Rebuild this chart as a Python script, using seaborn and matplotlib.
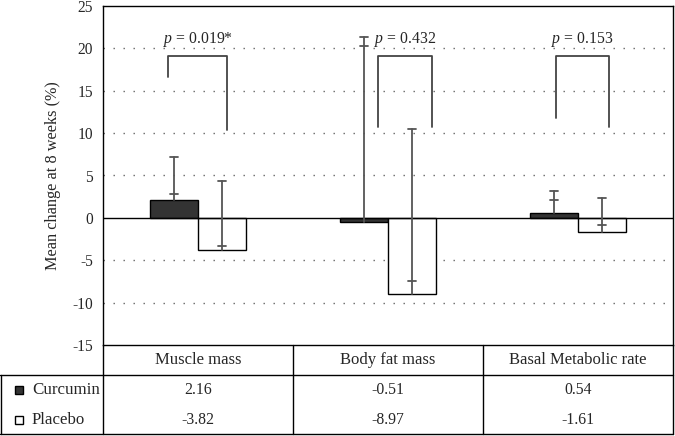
import matplotlib
matplotlib.use("Agg")
import matplotlib.pyplot as plt
import matplotlib.transforms as mtransforms
from matplotlib.lines import Line2D
from matplotlib.patches import Rectangle
import seaborn as sns
import pandas as pd
import numpy as np

# ---------------- data ----------------
categories = ["Muscle mass", "Body fat mass", "Basal Metabolic rate"]
groups = ["Curcumin", "Placebo"]
curcumin_mean = [2.16, -0.51, 0.54]
placebo_mean = [-3.82, -8.97, -1.61]
curcumin_cap = [7.2, 21.4, 3.2]
curcumin_tick = [2.8, 20.3, 2.1]
placebo_cap = [4.4, 10.5, 2.4]
placebo_tick = [-3.3, -7.5, -0.8]
p_labels = ["0.019*", "0.432", "0.153"]
bracket_top = [19.1, 19.1, 19.1]
bracket_left_bottom = [16.6, 10.7, 11.8]
bracket_right_bottom = [10.4, 10.7, 10.7]
bracket_left_x = [-0.158, -0.053, -0.116]
bracket_right_x = [0.153, 0.232, 0.163]
p_text_x = [0.0, 0.09, 0.02]
p_text_y = 21.0
y_ticks = [-15, -10, -5, 0, 5, 10, 15, 20, 25]

df = pd.DataFrame({
    "measure": categories * 2,
    "group": [groups[0]] * 3 + [groups[1]] * 3,
    "value": curcumin_mean + placebo_mean,
})

# ---------------- style ----------------
sns.set_style("white")
plt.rcParams["font.family"] = ["Liberation Serif", "DejaVu Serif"]
plt.rcParams["axes.unicode_minus"] = False
plt.rcParams["mathtext.fontset"] = "custom"
plt.rcParams["mathtext.it"] = "Liberation Serif:italic"
plt.rcParams["mathtext.rm"] = "Liberation Serif"

W, H = 675, 436
fig = plt.figure(figsize=(W / 100, H / 100), dpi=100)
ax = fig.add_axes([103 / W, (H - 345) / H, 570 / W, 339 / H])

dark = "#333333"
err_c = "#555555"
sns.barplot(data=df, x="measure", y="value", hue="group", order=categories,
            hue_order=groups, palette=[dark, "white"], width=0.505,
            edgecolor="black", linewidth=1.0, legend=False, ax=ax,
            errorbar=None, saturation=1, zorder=3)

ax.set_xlim(-0.5, 2.5)
ax.set_ylim(-15, 25)
ax.set_yticks(y_ticks)
ax.set_yticklabels([str(t) for t in y_ticks], fontsize=11.2)
ax.tick_params(axis="y", length=0, pad=7)
ax.set_xticks([])
ax.set_xlabel("")
ax.set_ylabel("Mean change at 8 weeks (%)", fontsize=11.7, labelpad=8)

for s in ["top", "right", "left", "bottom"]:
    ax.spines[s].set_visible(True)
    ax.spines[s].set_color("black")
    ax.spines[s].set_linewidth(1.0)

# dotted grid lines
for t in y_ticks:
    if t in (-15, 0, 25):
        continue
    ax.axhline(t, color="#666666", linestyle=(0, (1, 6.2)), linewidth=1.0, zorder=1)
ax.axhline(0, color="black", linewidth=1.0, zorder=4)

# error bars
cap_hw = 0.02
for cont, means, caps, ticks in [(ax.containers[0], curcumin_mean, curcumin_cap, curcumin_tick),
                                 (ax.containers[1], placebo_mean, placebo_cap, placebo_tick)]:
    for bar, m, c, t in zip(cont.patches, means, caps, ticks):
        xc = bar.get_x() + bar.get_width() / 2
        ax.plot([xc, xc], [m, c], color=err_c, lw=1.3, zorder=5)
        ax.plot([xc - cap_hw, xc + cap_hw], [c, c], color=err_c, lw=1.3, zorder=5)
        ax.plot([xc - cap_hw, xc + cap_hw], [t, t], color=err_c, lw=1.3, zorder=5)

# brackets & p-values
for i in range(3):
    xl = i + bracket_left_x[i]
    xr = i + bracket_right_x[i]
    ax.plot([xl, xl, xr, xr],
            [bracket_left_bottom[i], bracket_top[i], bracket_top[i], bracket_right_bottom[i]],
            color="#444444", lw=1.3, zorder=5)
    ax.text(i + p_text_x[i], p_text_y, "$p$ = " + p_labels[i], ha="center", va="center",
            fontsize=11.3, zorder=6)

# ---------------- table ----------------
blend = mtransforms.blended_transform_factory(ax.transData, fig.transFigure)
fy = lambda px: 1 - px / H
fx = lambda px: px / W
lw_t = 1.0

# horizontal lines
fig.add_artist(Line2D([fx(0), fx(673)], [fy(375), fy(375)], color="black", lw=lw_t, transform=fig.transFigure))
fig.add_artist(Line2D([fx(0), fx(673)], [fy(434), fy(434)], color="black", lw=lw_t, transform=fig.transFigure))
# vertical lines
fig.add_artist(Line2D([fx(0.5), fx(0.5)], [fy(375), fy(434)], color="black", lw=lw_t, transform=fig.transFigure))
for xb in [-0.5, 0.5, 1.5, 2.5]:
    ax.add_line(Line2D([xb, xb], [fy(345), fy(434)], color="black", lw=lw_t,
                       transform=blend, clip_on=False))

row_y = [fy(360), fy(390), fy(420)]
for i, cat in enumerate(categories):
    ax.text(i, row_y[0], cat, transform=blend, ha="center", va="center", fontsize=12, clip_on=False)
    ax.text(i, row_y[1], f"{curcumin_mean[i]:.2f}", transform=blend, ha="center", va="center", fontsize=11.3, clip_on=False)
    ax.text(i, row_y[2], f"{placebo_mean[i]:.2f}", transform=blend, ha="center", va="center", fontsize=11.3, clip_on=False)

# legend in table
for ry, g, fc in [(row_y[1], groups[0], dark), (row_y[2], groups[1], "white")]:
    fig.add_artist(Rectangle((fx(15), ry - 4 / H), 8 / W, 8 / H, facecolor=fc,
                             edgecolor="black", lw=1.0, transform=fig.transFigure))
    fig.text(fx(32), ry, g, ha="left", va="center", fontsize=12.2)

fig.savefig("out.png", dpi=100)
